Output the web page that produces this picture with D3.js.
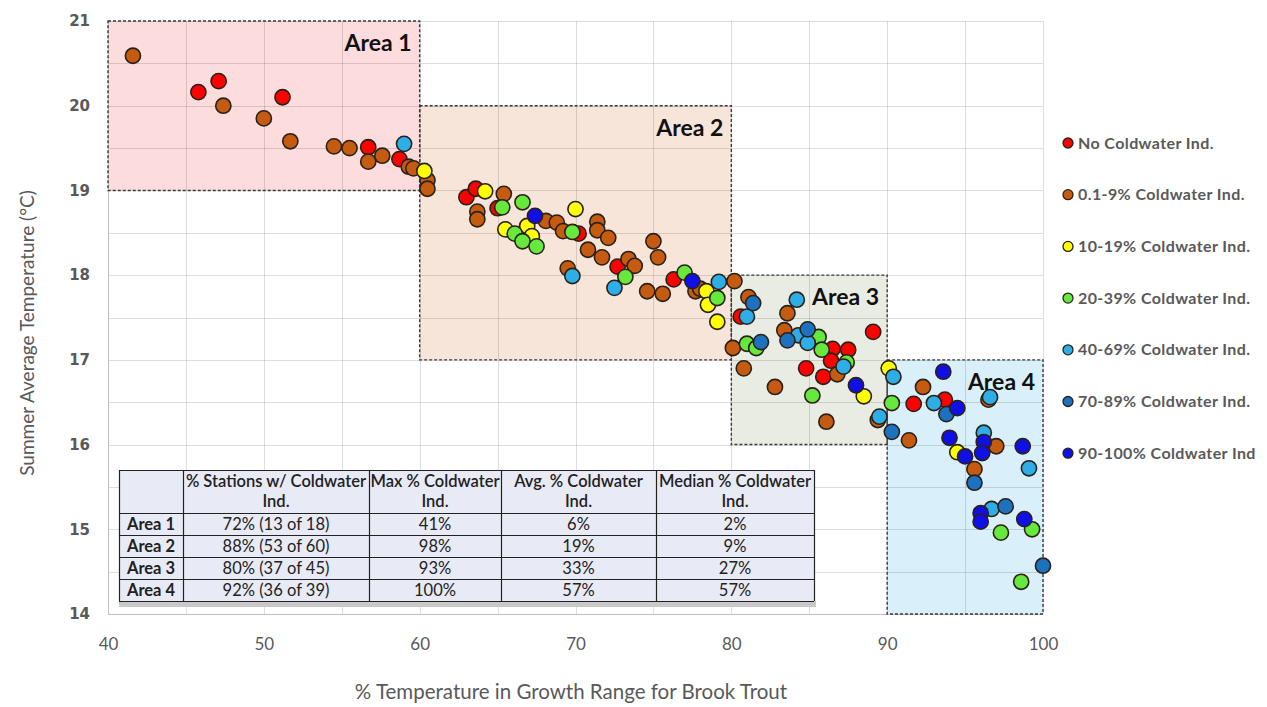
<!DOCTYPE html>
<html>
<head>
<meta charset="utf-8">
<script src="https://cdn.jsdelivr.net/npm/d3@7"></script>
<style>
  body { margin: 0; background: #fff; }
  svg { display: block; }
</style>
</head>
<body>
<svg id="chart" width="1267" height="707"></svg>
<script>
// ---- data ----
const categories = [
  "No Coldwater Ind.",
  "0.1-9% Coldwater Ind.",
  "10-19% Coldwater Ind.",
  "20-39% Coldwater Ind.",
  "40-69% Coldwater Ind.",
  "70-89% Coldwater Ind.",
  "90-100% Coldwater Ind"
];

// [% temperature in growth range, summer average temperature °C]
const noColdwater = [
  [45.8, 20.16], [47.1, 20.29], [51.2, 20.10], [56.7, 19.51], [58.7, 19.37],
  [63.0, 18.92], [63.6, 19.02], [65.0, 18.79], [70.2, 18.49], [72.7, 18.10],
  [76.3, 17.95], [80.6, 17.51], [86.5, 17.13], [87.5, 17.12], [86.4, 16.99],
  [85.9, 16.80], [84.8, 16.90], [89.1, 17.33], [91.7, 16.48], [93.7, 16.53]
];
const cw0to9 = [
  [41.6, 20.59], [47.4, 20.00], [50.0, 19.85], [51.7, 19.58], [54.5, 19.52],
  [55.5, 19.50], [56.7, 19.34], [57.6, 19.41], [59.3, 19.28], [59.6, 19.26],
  [60.5, 19.12], [60.5, 19.02], [63.7, 18.75], [63.7, 18.66], [65.4, 18.96],
  [68.1, 18.64], [68.8, 18.62], [69.2, 18.52], [71.4, 18.63], [71.4, 18.53],
  [72.1, 18.44], [70.8, 18.30], [71.7, 18.21], [69.5, 18.08], [75.0, 18.40],
  [75.3, 18.21], [73.4, 18.19], [73.8, 18.11], [74.6, 17.81], [75.6, 17.78],
  [77.7, 17.81], [78.0, 17.84], [80.2, 17.93], [81.1, 17.74], [83.6, 17.55],
  [83.4, 17.35], [80.1, 17.14], [80.8, 16.90], [82.8, 16.68], [86.1, 16.27],
  [86.8, 16.83], [91.4, 16.05], [92.3, 16.68], [96.5, 16.53], [97.0, 15.98],
  [95.6, 15.71], [89.4, 16.29]
];
const cw10to19 = [
  [60.3, 19.23], [64.2, 18.99], [65.5, 18.54], [66.9, 18.58], [67.2, 18.46],
  [70.0, 18.78], [78.4, 17.81], [78.5, 17.65], [79.1, 17.45], [90.1, 16.90],
  [88.5, 16.57], [94.5, 15.91]
];
const cw20to39 = [
  [65.3, 18.80], [66.6, 18.86], [66.1, 18.49], [66.6, 18.40], [67.5, 18.34],
  [69.8, 18.51], [73.2, 17.98], [77.0, 18.03], [79.1, 17.73], [81.0, 17.19],
  [81.6, 17.14], [85.6, 17.27], [85.8, 17.12], [87.4, 16.97], [85.2, 16.58],
  [90.3, 16.49], [97.3, 14.96], [99.3, 15.00], [98.6, 14.38]
];
const cw40to69 = [
  [59.0, 19.55], [69.8, 17.99], [72.5, 17.85], [79.2, 17.92], [81.0, 17.51],
  [84.2, 17.71], [84.3, 17.29], [84.9, 17.20], [87.2, 16.92], [90.4, 16.80],
  [89.5, 16.33], [93.0, 16.49], [96.6, 16.56], [96.2, 16.14], [99.1, 15.72],
  [96.7, 15.24]
];
const cw70to89 = [
  [81.4, 17.67], [83.6, 17.23], [84.9, 17.36], [81.9, 17.21], [90.3, 16.15],
  [93.8, 16.36], [95.6, 15.55], [97.6, 15.27], [100.0, 14.57]
];
const cw90to100 = [
  [67.4, 18.70], [77.5, 17.93], [88.0, 16.70], [93.6, 16.86], [94.5, 16.43],
  [94.0, 16.08], [95.0, 15.86], [96.2, 16.03], [96.1, 15.90], [98.7, 15.98],
  [96.0, 15.19], [96.0, 15.09], [98.8, 15.12]
];
const seriesData = [noColdwater, cw0to9, cw10to19, cw20to39, cw40to69, cw70to89, cw90to100];

const xTicks = [40, 50, 60, 70, 80, 90, 100];
const yTicks = [14, 15, 16, 17, 18, 19, 20, 21];

// highlighted areas: name, x range, y range
const areaNames = ["Area 1", "Area 2", "Area 3", "Area 4"];
const areaXFrom = [40, 60, 80, 90];
const areaXTo   = [60, 80, 90, 100];
const areaYFrom = [19, 17, 16, 14];
const areaYTo   = [21, 20, 18, 17];

// summary table
const tableHeader = ["", "% Stations w/ Coldwater|Ind.", "Max % Coldwater|Ind.", "Avg. % Coldwater|Ind.", "Median % Coldwater|Ind."];
const tableRowLabels = ["Area 1", "Area 2", "Area 3", "Area 4"];
const tableStations = ["72% (13 of 18)", "88% (53 of 60)", "80% (37 of 45)", "92% (36 of 39)"];
const tableMax = ["41%", "98%", "93%", "100%"];
const tableAvg = ["6%", "19%", "33%", "57%"];
const tableMedian = ["2%", "9%", "27%", "57%"];

// ---- styles ----
const seriesColors = ["#ff0000", "#c55a11", "#ffff00", "#66e83c", "#2eaee6", "#1c72bf", "#1010e6"];
const areaFills = ["#fcdcdc", "#f7e5da", "#e9ece3", "#d9f0fb"];
const textGray = "#595959";
const uiFont = "Lato, 'Open Sans', sans-serif";

// ---- chart ----
const svg = d3.select("#chart");
const x = d3.scaleLinear().domain([40, 100]).range([108, 1043]);
const y = d3.scaleLinear().domain([14, 21]).range([614, 21]);

// area backgrounds
const areaIdx = d3.range(areaNames.length);
svg.append("g").selectAll("rect").data(areaIdx).join("rect")
  .attr("x", i => x(areaXFrom[i]))
  .attr("y", i => y(areaYTo[i]))
  .attr("width", i => x(areaXTo[i]) - x(areaXFrom[i]))
  .attr("height", i => y(areaYFrom[i]) - y(areaYTo[i]))
  .attr("fill", i => areaFills[i]);

// gridlines
const grid = svg.append("g").attr("stroke", "rgba(0,0,0,0.13)").attr("stroke-width", 1);
grid.selectAll("line.v").data(d3.range(40, 100.1, 5)).join("line")
  .attr("class", "v")
  .attr("x1", d => Math.round(x(d)) + 0.5).attr("x2", d => Math.round(x(d)) + 0.5)
  .attr("y1", y(21)).attr("y2", y(14));
grid.selectAll("line.h").data(d3.range(14, 21.01, 0.5)).join("line")
  .attr("class", "h")
  .attr("y1", d => Math.round(y(d)) + 0.5).attr("y2", d => Math.round(y(d)) + 0.5)
  .attr("x1", x(40)).attr("x2", x(100));

// axis lines
svg.append("line").attr("x1", x(40) + 0.5).attr("x2", x(40) + 0.5).attr("y1", y(21)).attr("y2", y(14))
  .attr("stroke", "#bfbfbf");
svg.append("line").attr("x1", x(40)).attr("x2", x(100)).attr("y1", y(14) + 0.5).attr("y2", y(14) + 0.5)
  .attr("stroke", "#bfbfbf");

// area dashed outlines
svg.append("g").selectAll("rect").data(areaIdx).join("rect")
  .attr("x", i => x(areaXFrom[i]))
  .attr("y", i => y(areaYTo[i]))
  .attr("width", i => x(areaXTo[i]) - x(areaXFrom[i]))
  .attr("height", i => y(areaYFrom[i]) - y(areaYTo[i]))
  .attr("fill", "none")
  .attr("stroke", "#3a3a3a")
  .attr("stroke-width", 1.4)
  .attr("stroke-dasharray", "3,2");

// area labels
svg.append("g").selectAll("text").data(areaIdx).join("text")
  .attr("x", i => x(areaXTo[i]) - 8)
  .attr("y", i => y(areaYTo[i]) + 30)
  .attr("text-anchor", "end")
  .attr("font-family", uiFont)
  .attr("font-weight", "bold")
  .attr("font-size", 23)
  .attr("fill", "#111")
  .text(i => areaNames[i]);

// axes labels via d3 axes
const xAxis = svg.append("g").attr("transform", `translate(0,${y(14)})`)
  .call(d3.axisBottom(x).tickValues(xTicks).tickSize(0).tickPadding(24).tickFormat(d3.format("d")));
xAxis.select(".domain").remove();
xAxis.selectAll("text").attr("font-family", uiFont).attr("font-size", 17).attr("fill", textGray);

const yAxis = svg.append("g").attr("transform", `translate(${x(40)},0)`)
  .call(d3.axisLeft(y).tickValues(yTicks).tickSize(0).tickPadding(18).tickFormat(d3.format("d")));
yAxis.select(".domain").remove();
yAxis.selectAll("text").attr("font-family", "'DejaVu Sans', sans-serif").attr("font-weight", "bold")
  .attr("font-size", 15).attr("fill", textGray);

// axis titles
svg.append("text")
  .attr("x", 571).attr("y", 699)
  .attr("text-anchor", "middle")
  .attr("font-family", uiFont).attr("font-size", 20.5).attr("fill", textGray)
  .text("% Temperature in Growth Range for Brook Trout");
svg.append("text")
  .attr("transform", `translate(34,333) rotate(-90)`)
  .attr("text-anchor", "middle")
  .attr("font-family", uiFont).attr("font-size", 19).attr("fill", textGray)
  .text("Summer Average Temperature (°C)");

// points
const pts = svg.append("g");
seriesData.forEach((arr, si) => {
  pts.append("g").selectAll("circle").data(arr).join("circle")
    .attr("cx", d => x(d[0]))
    .attr("cy", d => y(d[1]))
    .attr("r", 7.6)
    .attr("fill", seriesColors[si])
    .attr("stroke", "#2a2118")
    .attr("stroke-width", 1.6);
});

// legend
const legend = svg.append("g").attr("transform", "translate(1068,143)");
const lg = legend.selectAll("g").data(categories).join("g")
  .attr("transform", (d, i) => `translate(0,${i * 51.7})`);
lg.append("circle").attr("r", 5).attr("fill", (d, i) => seriesColors[i])
  .attr("stroke", "#2a2118").attr("stroke-width", 1.3);
lg.append("text").attr("x", 10).attr("y", 5.5)
  .attr("font-family", uiFont).attr("font-weight", "bold").attr("font-size", 16)
  .attr("letter-spacing", 0.4)
  .attr("fill", textGray).text(d => d);

// summary table
const colEdges = [119, 183, 369, 501, 656, 814];
const rowEdges = [470, 513, 535, 557, 579, 601];
const tbl = svg.append("g");
tbl.append("rect").attr("x", colEdges[0]).attr("y", rowEdges[5]).attr("width", colEdges[5] - colEdges[0] + 2)
  .attr("height", 6).attr("fill", "#c8c8c8");
tbl.append("rect").attr("x", colEdges[0]).attr("y", rowEdges[0])
  .attr("width", colEdges[5] - colEdges[0]).attr("height", rowEdges[5] - rowEdges[0])
  .attr("fill", "#e8eaf5");
tbl.selectAll("line.col").data(colEdges).join("line").attr("class", "col")
  .attr("x1", d => d + 0.5).attr("x2", d => d + 0.5)
  .attr("y1", rowEdges[0]).attr("y2", rowEdges[5])
  .attr("stroke", "#222").attr("stroke-width", 1.2);
tbl.selectAll("line.row").data(rowEdges).join("line").attr("class", "row")
  .attr("y1", d => d + 0.5).attr("y2", d => d + 0.5)
  .attr("x1", colEdges[0]).attr("x2", colEdges[5])
  .attr("stroke", "#222").attr("stroke-width", 1.2);

const colMid = i => (colEdges[i] + colEdges[i + 1]) / 2;
tableHeader.forEach((h, ci) => {
  if (!h) return;
  const lines = h.split("|");
  lines.forEach((ln, li) => {
    tbl.append("text").attr("x", colMid(ci)).attr("y", rowEdges[0] + 17 + li * 20)
      .attr("text-anchor", "middle").attr("font-family", uiFont).attr("font-size", 16.5)
      .attr("font-weight", 600).attr("fill", "#222").text(ln);
  });
});
const bodyCols = [tableRowLabels, tableStations, tableMax, tableAvg, tableMedian];
bodyCols.forEach((col, ci) => {
  col.forEach((v, ri) => {
    tbl.append("text").attr("x", colMid(ci)).attr("y", rowEdges[ri + 1] + 17)
      .attr("text-anchor", "middle").attr("font-family", uiFont).attr("font-size", 16.5)
      .attr("font-weight", ci === 0 ? "bold" : "normal").attr("fill", "#222").text(v);
  });
});
</script>
</body>
</html>
